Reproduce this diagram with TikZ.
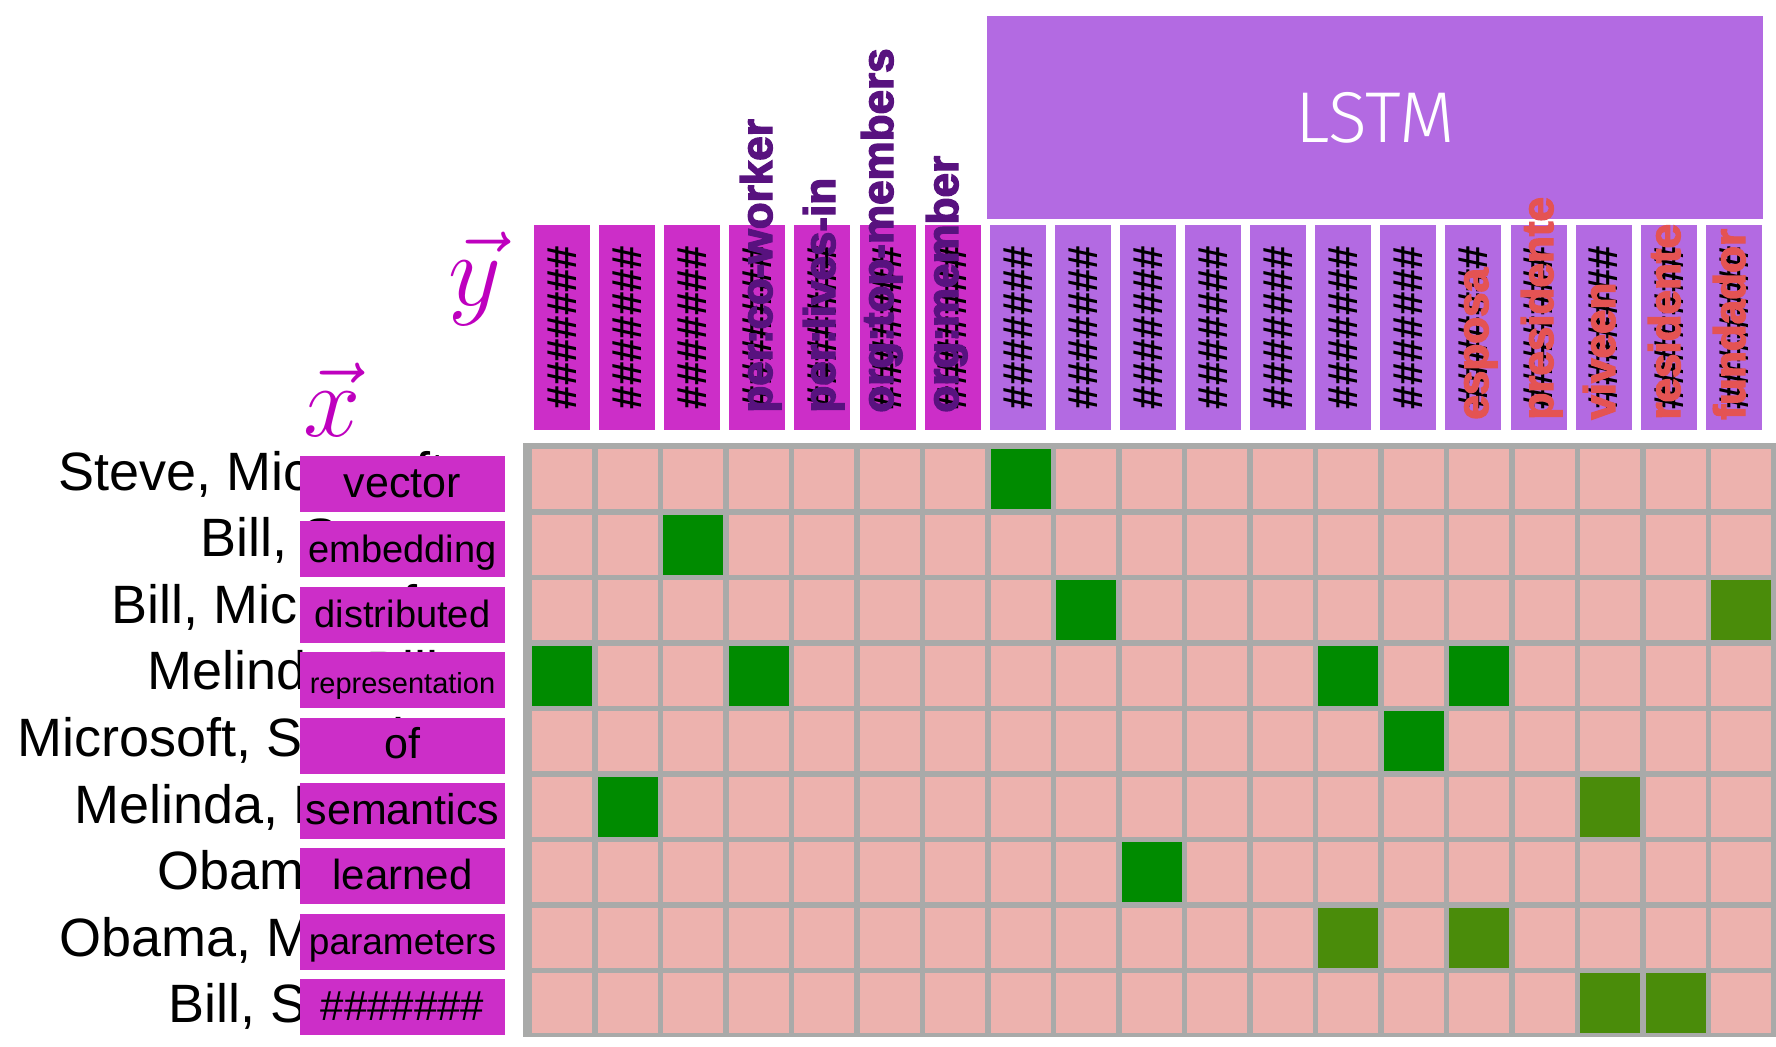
\RequirePackage{fix-cm}
\documentclass[tikz,border=0pt]{standalone}
\usepackage{fontspec}
\setmainfont{Liberation Sans}
\newfontfamily\lstmfont{Fira Sans Light}
\newfontfamily\relfont[FakeBold=3.2]{Liberation Sans}
\usetikzlibrary{positioning}

\definecolor{wordmag}{HTML}{CC2EC8}
\definecolor{lstmpurple}{HTML}{B36AE2}
\definecolor{cellpink}{HTML}{EDB2AE}
\definecolor{gridgray}{HTML}{A9AAA9}
\definecolor{hitgreen}{HTML}{008B00}
\definecolor{hitolive}{HTML}{4A8C0A}
\definecolor{relpurple}{HTML}{58127F}
\definecolor{relred}{HTML}{E45353}
\definecolor{vecmag}{HTML}{BE00BE}

\newcommand\hashes{\#\#\#\#\#\#\#}

\tikzset{
  cell/.style={fill=cellpink, inner sep=0, minimum size=30pt},
  hit/.style={cell, fill=hitgreen},
  hitlate/.style={cell, fill=hitolive},
  wordbox/.style={fill=wordmag, inner sep=0, minimum width=102.5pt, minimum height=28pt,
    text height=15pt, text depth=2pt, font=\fontsize{21.5}{21.5}\selectfont},
  rowlabel/.style={anchor=base west, inner sep=0, font=\fontsize{27}{27}\selectfont},
  headbox/.style={rotate=90, inner sep=0, minimum width=102.5pt, minimum height=28pt,
    font=\fontsize{21}{21}\selectfont\bfseries},
  rellabel/.style={rotate=90, anchor=base west, inner sep=0,
    font=\fontsize{22}{22}\relfont\bfseries},
  lstmbox/.style={fill=lstmpurple, text=white, inner sep=0, minimum width=388pt,
    minimum height=101.5pt, font=\fontsize{36}{36}\lstmfont},
  vecsym/.style={text=vecmag, inner sep=0, font=\fontsize{51.5}{51.5}\selectfont},
}

\begin{document}
\begin{tikzpicture}[x=0.5pt, y=-0.5pt]
    \useasboundingbox (0,0) rectangle (1776,1046);

    \fill [gridgray] (523,443) rectangle (1776,1037);
    \foreach \r in {0,...,8}
      \foreach \c in {0,...,18}
        \node [cell] (c-\r-\c) at ({562+65.5*\c}, {479+65.5*\r}) {};
    \foreach \r/\c in {0/7, 1/2, 2/8, 3/0, 3/3, 3/12, 3/14, 4/13, 5/1, 6/9}
      \node [hit] (g-\r-\c) at (c-\r-\c) {};
    \foreach \r/\c in {2/18, 5/16, 7/12, 7/14, 8/16, 8/17}
      \node [hitlate] (g-\r-\c) at (c-\r-\c) {};

    \node [rowlabel] (s0) at (58, 490) {Steve, Microsoft};
    \node [rowlabel] (s1) at (200, 556.6) {Bill, Steve};
    \node [rowlabel] (s2) at (111, 623.2) {Bill, Microsoft};
    \node [rowlabel] (s3) at (147, 689.8) {Melinda, Bill};
    \node [rowlabel] (s4) at (17, 756.4) {Microsoft, Seattle};
    \node [rowlabel] (s5) at (74, 823) {Melinda, Bill};
    \node [rowlabel] (s6) at (157, 889.6) {Obama, USA};
    \node [rowlabel] (s7) at (59, 956.2) {Obama, Michelle};
    \node [rowlabel] (s8) at (168, 1022.8) {Bill, Seattle};

    \node [wordbox] (w0) at (402.5, 484) {vector};
    \node [wordbox, below=4.3pt of w0, font=\fontsize{19}{19}\selectfont] (w1) {embedding};
    \node [wordbox, below=4.3pt of w1, font=\fontsize{19}{19}\selectfont] (w2) {distributed};
    \node [wordbox, below=4.3pt of w2, font=\fontsize{14.5}{14.5}\selectfont] (w3) {representation};
    \node [wordbox, below=4.3pt of w3] (w4) {of};
    \node [wordbox, below=4.3pt of w4] (w5) {semantics};
    \node [wordbox, below=4.3pt of w5, font=\fontsize{21}{21}\selectfont] (w6) {learned};
    \node [wordbox, below=4.3pt of w6, font=\fontsize{18.5}{18.5}\selectfont] (w7) {parameters};
    \node [wordbox, below=4.3pt of w7, font=\fontsize{21}{21}\selectfont] (w8) {\hashes};

    \node [vecsym] (vy) at (475, 279) {$\vec{y}$};
    \node [vecsym] (vx) at (332, 400) {$\vec{x}$};

    \foreach \c in {0,...,6}
      \node [headbox, fill=wordmag] (h\c) at ({562+65.1*\c}, 327.5) {\hashes};
    \foreach \c in {7,...,18}
      \node [headbox, fill=lstmpurple] (h\c) at ({562+65.1*\c}, 327.5) {\hashes};

    \node [lstmbox] (lstm) at (1375, 117.5) {LSTM};

    \node [rellabel, text=relpurple] (r3) at (772, 413) {per:co-worker};
    \node [rellabel, text=relpurple] (r4) at (835, 413) {per:lives-in};
    \node [rellabel, text=relpurple] (r5) at (893, 413) {org:top-members};
    \node [rellabel, text=relpurple] (r6) at (958, 413) {org:member};
    \node [rellabel, text=relred] (r14) at (1488, 420) {esposa};
    \node [rellabel, text=relred] (r15) at (1553, 420) {presidente};
    \node [rellabel, text=relred] (r16) at (1615, 420) {viveen};
    \node [rellabel, text=relred] (r17) at (1680, 420) {residente};
    \node [rellabel, text=relred] (r18) at (1745, 420) {fundador};
\end{tikzpicture}
\end{document}
